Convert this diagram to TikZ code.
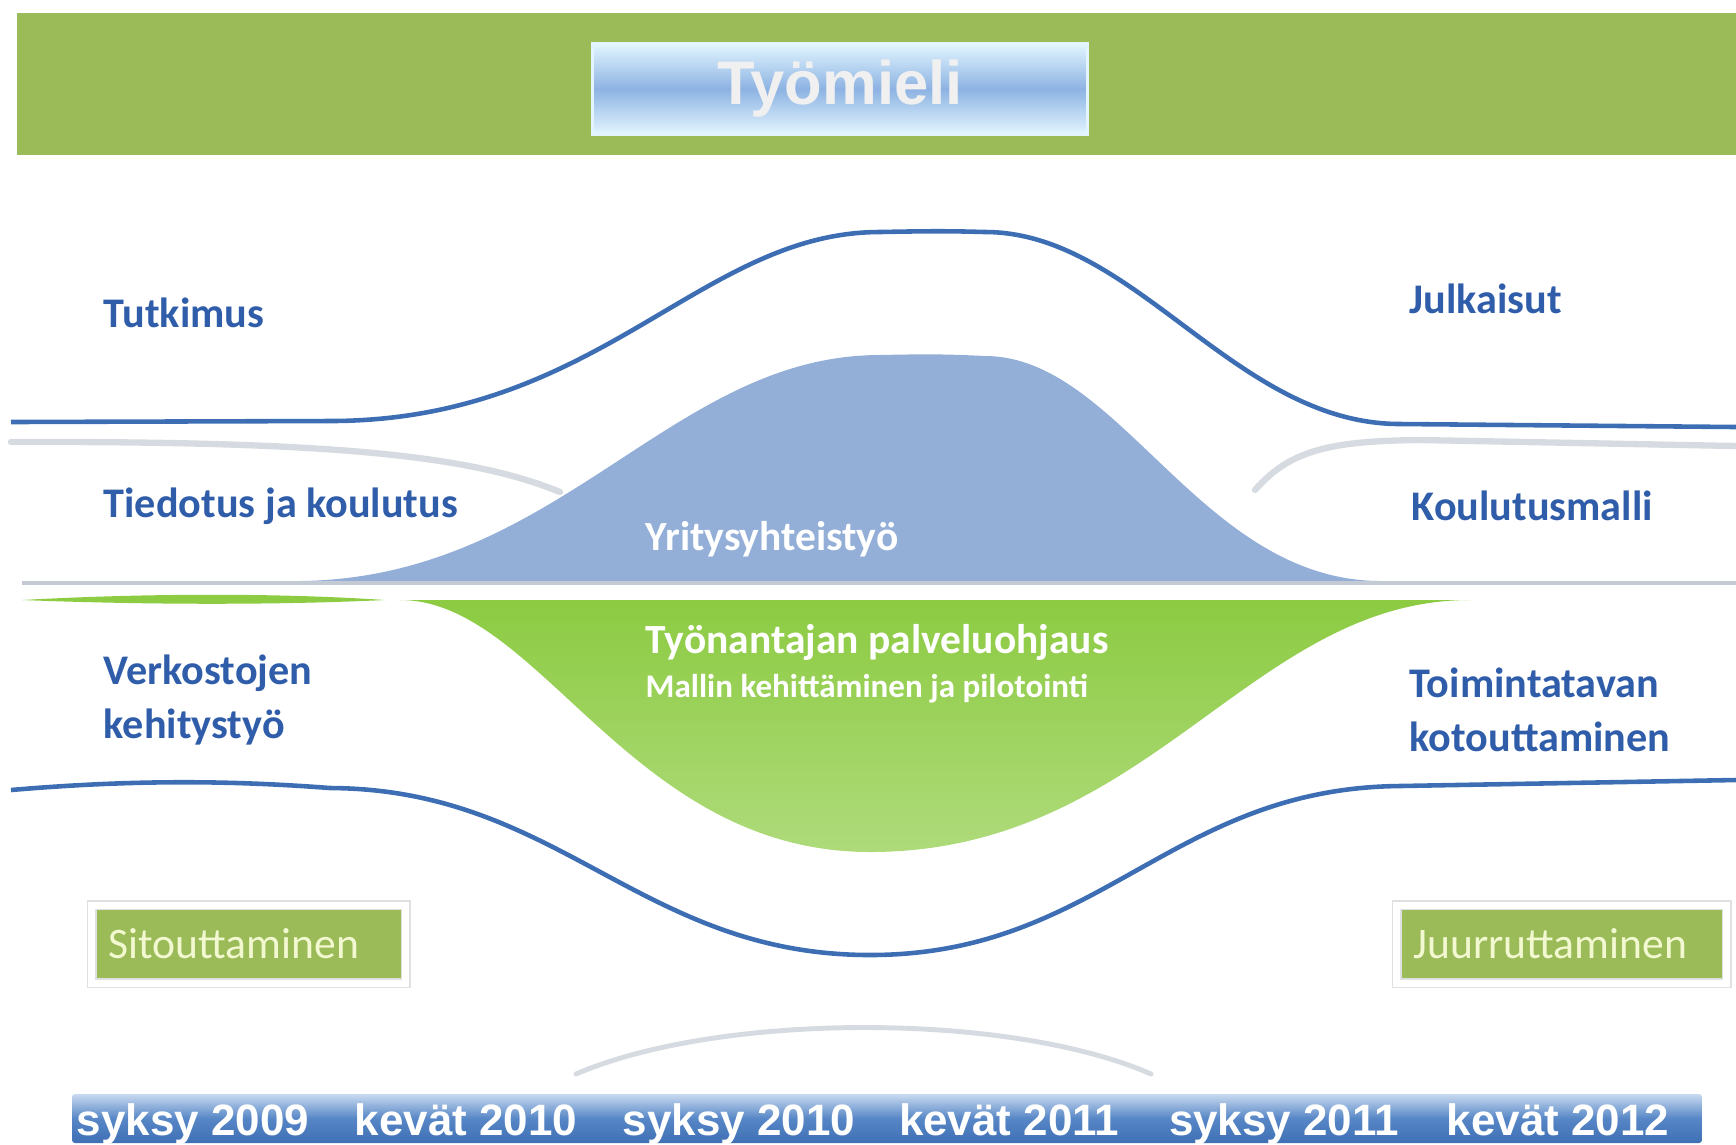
\documentclass[tikz,border=0pt]{standalone}
\usepackage{fontspec}
\setmainfont{Carlito}
\newfontfamily\arialfont{Liberation Sans}
\usetikzlibrary{shadows}

\definecolor{bandgreen}{HTML}{9BBB59}
\definecolor{waveblue}{HTML}{3D6EB4}
\definecolor{labelblue}{HTML}{2F5DA9}
\definecolor{humpblue}{HTML}{93AFD8}
\definecolor{humpgreen}{HTML}{8CCB42}
\definecolor{sepgray}{HTML}{C4CAD4}
\definecolor{glintgray}{HTML}{D6DAE1}
\definecolor{boxtext}{HTML}{F2F8D0}
\definecolor{titlemid}{HTML}{8DB3E2}
\definecolor{titleedge}{HTML}{E2F5FF}
\definecolor{bartop}{HTML}{C9DAF0}
\definecolor{barmid}{HTML}{5686C6}
\definecolor{barbot}{HTML}{3F70B4}

\begin{document}
\begin{tikzpicture}[x=0.01cm,y=-0.01cm,
    wave/.style={draw=waveblue,line width=1.3pt},
    glint/.style={draw=glintgray,line width=1.8pt,line cap=round},
    theme/.style={anchor=west,inner xsep=0pt,text=labelblue,align=left,
      font=\fontsize{12}{15.4}\selectfont\bfseries},
    inhump/.style={anchor=west,inner xsep=0pt,text=white,font=\fontsize{11.8}{13}\selectfont\bfseries},
    phasebox/.style={fill=bandgreen,draw=black!12,line width=0.4pt,
      double=white,double distance=0.07cm,
      text=boxtext,font=\fontsize{12.4}{14}\selectfont,
      minimum height=0.78cm,inner xsep=0.17cm,anchor=west,
      drop shadow={opacity=0.3,shadow xshift=0.03cm,shadow yshift=-0.05cm}},
    term/.style={anchor=base,text=white,font=\arialfont\bfseries\fontsize{12.5}{14}\selectfont}]

  \useasboundingbox (0,0) rectangle (1736,1144);

  % top band and title
  \fill[bandgreen] (17,13) rectangle (1736,155);
  \node (title) [shade,top color=titleedge,bottom color=titleedge,middle color=titlemid,
    draw=titleedge,line width=1pt,minimum width=4.95cm,minimum height=0.9cm,
    text=white!94!black,font=\arialfont\bfseries\fontsize{17.5}{20}\selectfont]
    at (840,89) {Työmieli};

  % humps
  \fill[humpblue] (300,581) .. controls (560,578) and (670,355) .. (880,355)
    .. controls (925,354) and (945,354) .. (985,356)
    .. controls (1120,356) and (1200,580) .. (1380,581) -- cycle;
  \shade[top color=humpgreen,bottom color=humpgreen!70!white]
    (400,600) .. controls (540,600) and (630,852) .. (870,852)
    .. controls (1150,852) and (1250,600) .. (1470,600) -- cycle;
  \fill[humpgreen] (22,600) .. controls (150,593) and (280,593) .. (385,600)
    .. controls (280,605) and (150,605) .. (22,600);

  % faint lines
  \draw[glint] (11,442) .. controls (330,441) and (470,455) .. (560,492);
  \draw[glint] (1255,490) .. controls (1290,450) and (1330,441) .. (1420,440) -- (1736,446);
  \draw[draw=sepgray,line width=0.9pt] (22,583) -- (1736,583);
  \draw[glint,line width=1.4pt] (576,1074) .. controls (720,1012) and (1010,1012) .. (1151,1074);

  % waves
  \draw[wave] (11,422) -- (330,421) .. controls (600,421) and (700,232) .. (880,232)
    .. controls (930,231) and (950,231) .. (985,232)
    .. controls (1135,232) and (1235,424) .. (1400,424) -- (1736,427);
  \draw[wave] (11,790) .. controls (150,778) and (250,782) .. (330,788)
    .. controls (560,789) and (640,955) .. (870,955)
    .. controls (1100,955) and (1170,788) .. (1400,786) -- (1736,780);

  % themes
  \node (tutkimus) [theme] at (103,313) {Tutkimus};
  \node (julkaisut) [theme] at (1409,299) {Julkaisut};
  \node (tiedotus) [theme] at (103,506) {Tiedotus ja koulutus};
  \node (koulutusmalli) [theme] at (1411,506) {Koulutusmalli};
  \node (verkostot) [theme] at (103,700) {Verkostojen\\kehitystyö};
  \node (toimintatapa) [theme] at (1409,710) {Toimintatavan\\kotouttaminen};

  \node (yritys) [inhump] at (645,539) {Yritysyhteistyö};
  \node (ohjaus) [inhump] at (645,642) {Työnantajan palveluohjaus};
  \node (malli) [inhump,font=\fontsize{9.4}{11}\selectfont\bfseries] at (645,689) {Mallin kehittäminen ja pilotointi};

  % phase boxes
  \node (sitouttaminen) [phasebox,text width=2.8cm] at (91,944) {Sitouttaminen};
  \node (juurruttaminen) [phasebox,text width=2.96cm] at (1396,944) {Juurruttaminen};

  % time line
  \shade[top color=bartop,bottom color=barbot,middle color=barmid,rounded corners=0.03cm]
    (72,1094) rectangle (1702,1143);
  \node (s09) [term] at (193,1135) {syksy 2009};
  \node (k10) [term] at (466,1135) {kevät 2010};
  \node (s10) [term] at (739,1135) {syksy 2010};
  \node (k11) [term] at (1009,1135) {kevät 2011};
  \node (s11) [term] at (1284,1135) {syksy 2011};
  \node (k12) [term] at (1558,1135) {kevät 2012};
\end{tikzpicture}
\end{document}
